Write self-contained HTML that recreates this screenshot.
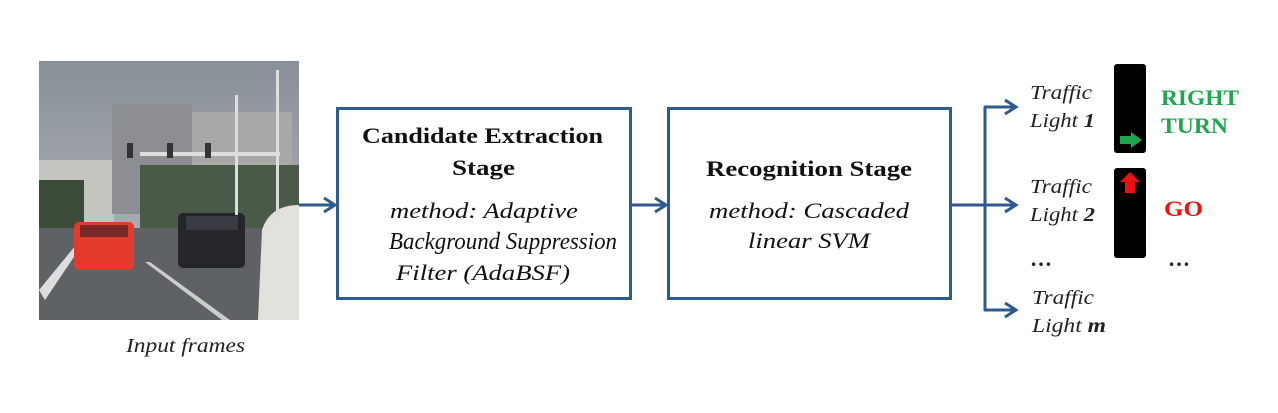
<!DOCTYPE html>
<html><head><style>
body{margin:0;background:#fff;width:1278px;height:408px;overflow:hidden;font-family:"Liberation Serif",serif}
</style></head><body>
<svg width="1278" height="408" xmlns="http://www.w3.org/2000/svg" font-family="Liberation Serif, serif">
<defs>
<linearGradient id="sky" x1="0" y1="0" x2="0" y2="1"><stop offset="0" stop-color="#8a9098"/><stop offset="1" stop-color="#b8bcc0"/></linearGradient>
<marker id="ah" markerWidth="16" markerHeight="18" refX="13" refY="9" orient="auto" markerUnits="userSpaceOnUse"><path d="M2,2 L13,9 L2,16" fill="none" stroke="#2e5a8e" stroke-width="3"/></marker>
</defs>
<g>
<rect x="39" y="61" width="260" height="259" fill="url(#sky)"/>
<rect x="39" y="160" width="75" height="70" fill="#c4c4c0"/>
<rect x="112" y="104" width="80" height="110" fill="#8c8e92"/>
<rect x="192" y="112" width="100" height="100" fill="#a9a8a6"/>
<rect x="39" y="180" width="45" height="60" fill="#3c4a3a"/>
<rect x="140" y="165" width="159" height="70" fill="#4a5a48"/>
<rect x="39" y="228" width="260" height="92" fill="#5f6264"/>
<polygon points="39,290 80,240 84,242 45,300" fill="#ddd"/>
<polygon points="145,262 150,262 230,320 222,320" fill="#ccc"/>
<rect x="74" y="222" width="60" height="48" rx="5" fill="#e23a2c"/>
<rect x="80" y="225" width="48" height="12" fill="#7a2a26"/>
<rect x="178" y="213" width="67" height="55" rx="5" fill="#25262a"/>
<rect x="186" y="216" width="52" height="14" fill="#3a3c44"/>
<path d="M258,320 L262,230 Q270,205 299,205 L299,320 Z" fill="#e3e1dc"/>
<rect x="276" y="70" width="3" height="150" fill="#ddd"/>
<rect x="235" y="95" width="3" height="120" fill="#ddd"/>
<rect x="140" y="152" width="140" height="4" fill="#ddd"/>
<rect x="127" y="143" width="6" height="15" fill="#333"/>
<rect x="167" y="143" width="6" height="15" fill="#333"/>
<rect x="205" y="143" width="6" height="15" fill="#333"/>
</g>
<text x="126" y="352" font-size="20" font-style="italic" fill="#222" textLength="119" lengthAdjust="spacingAndGlyphs">Input frames</text>
<rect x="337.5" y="108.5" width="293" height="190" fill="#fff" stroke="#2e5a8e" stroke-width="3"/>
<rect x="668.5" y="108.5" width="282" height="190" fill="#fff" stroke="#2e5a8e" stroke-width="3"/>
<g font-size="22" fill="#111">
<text x="362" y="143" font-weight="bold" textLength="241" lengthAdjust="spacingAndGlyphs">Candidate Extraction</text>
<text x="452" y="175" font-weight="bold" textLength="63" lengthAdjust="spacingAndGlyphs">Stage</text>
<text x="390" y="218" font-style="italic" textLength="188" lengthAdjust="spacingAndGlyphs">method: Adaptive</text>
<text x="389" y="249" font-style="italic" font-size="24" textLength="228" lengthAdjust="spacingAndGlyphs">Background Suppression</text>
<text x="396" y="280" font-style="italic" textLength="174" lengthAdjust="spacingAndGlyphs">Filter (AdaBSF)</text>
<text x="706" y="176" font-weight="bold" textLength="206" lengthAdjust="spacingAndGlyphs">Recognition Stage</text>
<text x="709" y="218" font-style="italic" textLength="200" lengthAdjust="spacingAndGlyphs">method: Cascaded</text>
<text x="748" y="248" font-style="italic" textLength="122" lengthAdjust="spacingAndGlyphs">linear SVM</text>
</g>
<g stroke="#2e5a8e" stroke-width="3" fill="none">
<line x1="299" y1="205" x2="335" y2="205" marker-end="url(#ah)"/>
<line x1="631" y1="205" x2="666" y2="205" marker-end="url(#ah)"/>
<line x1="951" y1="205" x2="985" y2="205"/>
<line x1="985" y1="106" x2="985" y2="311"/>
<line x1="984" y1="107" x2="1016" y2="107" marker-end="url(#ah)"/>
<line x1="984" y1="205" x2="1016" y2="205" marker-end="url(#ah)"/>
<line x1="984" y1="310" x2="1016" y2="310" marker-end="url(#ah)"/>
</g>
<g font-size="20" font-style="italic" fill="#222">
<text x="1030" y="99" textLength="62" lengthAdjust="spacingAndGlyphs">Traffic</text>
<text x="1030" y="127" textLength="65" lengthAdjust="spacingAndGlyphs">Light <tspan font-weight="bold">1</tspan></text>
<text x="1030" y="193" textLength="62" lengthAdjust="spacingAndGlyphs">Traffic</text>
<text x="1030" y="221" textLength="65" lengthAdjust="spacingAndGlyphs">Light <tspan font-weight="bold">2</tspan></text>
<text x="1032" y="304" textLength="62" lengthAdjust="spacingAndGlyphs">Traffic</text>
<text x="1032" y="332" textLength="74" lengthAdjust="spacingAndGlyphs">Light <tspan font-weight="bold">m</tspan></text>
</g>
<text x="1030" y="266" font-size="22" font-weight="bold" fill="#222">…</text>
<text x="1168" y="266" font-size="22" font-weight="bold" fill="#222">…</text>
<rect x="1114" y="64" width="32" height="89" rx="3" fill="#000"/>
<rect x="1114" y="168" width="32" height="90" rx="3" fill="#000"/>
<polygon points="1120,136 1131,136 1131,132 1142,140 1131,148 1131,144 1120,144" fill="#1fa64a"/>
<polygon points="1130,172 1140,182 1135,182 1135,193 1125,193 1125,182 1120,182" fill="#ee1111"/>
<g font-size="22" font-weight="bold">
<text x="1161" y="105" fill="#1fa650" textLength="78" lengthAdjust="spacingAndGlyphs">RIGHT</text>
<text x="1161" y="133" fill="#1fa650" textLength="67" lengthAdjust="spacingAndGlyphs">TURN</text>
<text x="1164" y="216" fill="#ee1111" textLength="39" lengthAdjust="spacingAndGlyphs">GO</text>
</g>
</svg>
</body></html>
